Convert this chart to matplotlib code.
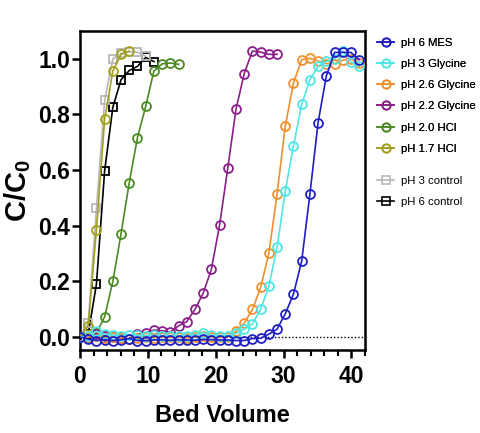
import matplotlib
matplotlib.use("Agg")
import matplotlib.pyplot as plt
from matplotlib.lines import Line2D
from matplotlib.ticker import MultipleLocator, FormatStrFormatter

plt.rcParams['font.family'] = ['Liberation Sans', 'DejaVu Sans']
plt.rcParams['mathtext.fontset'] = 'custom'
plt.rcParams['mathtext.rm'] = 'Liberation Sans:bold'
plt.rcParams['mathtext.it'] = 'Liberation Sans:bold'
plt.rcParams['mathtext.bf'] = 'Liberation Sans:bold'
plt.rcParams['mathtext.default'] = 'rm'

# ---- data ----
bed_volume = [0, 1.21, 2.42, 3.63, 4.84, 6.05, 7.26, 8.47, 9.68, 10.89, 12.1, 13.31,
              14.52, 15.73, 16.94, 18.15, 19.36, 20.57, 21.78, 22.99, 24.2, 25.41,
              26.62, 27.83, 29.04, 30.25, 31.46, 32.67, 33.88, 35.09, 36.3, 37.51,
              38.72, 39.93, 41.14]

ph6_mes = [0.0, -0.008, -0.013, -0.01, -0.013, -0.01, -0.006, -0.013, -0.013, -0.011,
           -0.01, -0.012, -0.01, -0.011, -0.012, -0.009, -0.01, -0.011, -0.011, -0.013,
           -0.013, -0.006, -0.005, 0.01, 0.028, 0.083, 0.154, 0.273, 0.513, 0.771,
           0.938, 1.023, 1.023, 1.023, 0.997]

ph3_gly = [0.0, 0.005, 0.02, 0.01, 0.006, 0.005, 0.008, 0.006, 0.005, 0.006,
           0.005, 0.004, 0.004, 0.005, 0.008, 0.015, 0.006, 0.005, 0.004, 0.013,
           0.028, 0.047, 0.099, 0.183, 0.322, 0.524, 0.687, 0.836, 0.925, 0.973,
           0.991, 1.0, 1.028, 0.989, 0.973]

ph26_gly = [0.0, 0.0, 0.002, -0.003, 0.0, -0.004, -0.008, -0.005, 0.0, -0.003,
            0.0, -0.002, 0.0, -0.004, 0.0, 0.002, 0.0, -0.002, 0.0, 0.02,
            0.05, 0.099, 0.178, 0.3, 0.513, 0.758, 0.913, 0.997, 1.002, 0.992,
            0.983, 0.983, 0.995, 1.0, 0.985]

ph22_gly = [0.0, 0.0, 0.012, 0.005, 0.0, -0.005, -0.008, 0.01, 0.014, 0.025,
            0.022, 0.018, 0.04, 0.055, 0.099, 0.157, 0.243, 0.402, 0.607, 0.819,
            0.947, 1.028, 1.024, 1.016, 1.016]

ph20_hcl = [0.0, 0.0, 0.013, 0.073, 0.2, 0.371, 0.555, 0.717, 0.829, 0.956,
            0.982, 0.985, 0.98]

ph17_hcl = [0.0, 0.04, 0.385, 0.783, 0.956, 1.016, 1.028]

ph3_ctrl = [0.0, 0.049, 0.462, 0.851, 1.0, 1.02, 1.025, 1.024, 1.009]

ph6_ctrl = [0.0, 0.01, 0.19, 0.597, 0.826, 0.925, 0.958, 0.973, 1.005, 0.99]

labels = ["pH 6 MES", "pH 3 Glycine", "pH 2.6 Glycine", "pH 2.2 Glycine",
          "pH 2.0 HCl", "pH 1.7 HCl", "pH 3 control", "pH 6 control"]
colors = ["#1f1fc4", "#4fe6e6", "#f0902c", "#8a1f8a", "#4b8a22", "#a49f1e",
          "#b8b8b8", "#000000"]
markers = ["o", "o", "o", "o", "o", "o", "s", "s"]
series = [ph6_mes, ph3_gly, ph26_gly, ph22_gly, ph20_hcl, ph17_hcl, ph3_ctrl, ph6_ctrl]

# ---- figure ----
fig = plt.figure(figsize=(4.8, 4.33), dpi=100)
ax = fig.add_axes([80 / 480, 1 - 350 / 433, 285 / 480, 319 / 433])

ax.axhline(0, color="black", lw=1.0, ls=(0, (1, 1.5)), zorder=0)

n = len(series)
for k in range(n - 1, -1, -1):
    y = series[k]
    x = bed_volume[:len(y)]
    ax.plot(x, y, color=colors[k], marker=markers[k], ms=6.4 if markers[k] == 'o' else 5.6,
            mfc="none", mew=1.3, lw=1.2, zorder=10 + (n - k))

ax.set_xlim(0, 42)
ax.set_ylim(-0.047, 1.1)
ax.xaxis.set_major_locator(MultipleLocator(10))
ax.xaxis.set_minor_locator(MultipleLocator(2))
ax.yaxis.set_major_locator(MultipleLocator(0.2))
ax.yaxis.set_major_formatter(FormatStrFormatter("%.1f"))

for s in ax.spines.values():
    s.set_linewidth(1.8)
ax.tick_params(axis="both", which="major", length=6, width=1.8, labelsize=16.5)
ax.tick_params(axis="y", which="major", pad=1)
ax.tick_params(axis="x", which="major", pad=5)
ax.tick_params(axis="x", which="minor", length=4, width=1.5)
ax.tick_params(axis="y", which="minor", left=False)
for lab in ax.get_xticklabels() + ax.get_yticklabels():
    lab.set_fontweight("bold")

ax.set_xlabel("Bed Volume", fontsize=17, fontweight="bold", labelpad=11)
ax.set_ylabel("C/C$_0$", fontsize=21, fontweight="bold", labelpad=4)

handles = [Line2D([], [], color=colors[k], marker=markers[k], mfc="none", mew=1.2,
                  ms=6 if markers[k] == 'o' else 5.5, lw=1.2) for k in range(n)]

leg1 = fig.legend(handles[:6], labels[:6], loc="upper left",
                  bbox_to_anchor=(377 / 480, 1 - 38 / 433), frameon=False,
                  fontsize=8.2, labelspacing=0.98, handlelength=1.5,
                  handletextpad=0.65, borderpad=0, borderaxespad=0)
leg2 = fig.legend(handles[6:], labels[6:], loc="upper left",
                  bbox_to_anchor=(377 / 480, 1 - 176 / 433), frameon=False,
                  fontsize=8.2, labelspacing=0.98, handlelength=1.5,
                  handletextpad=0.65, borderpad=0, borderaxespad=0)
fig.add_artist(leg1)

fig.savefig("out.png", dpi=100)
